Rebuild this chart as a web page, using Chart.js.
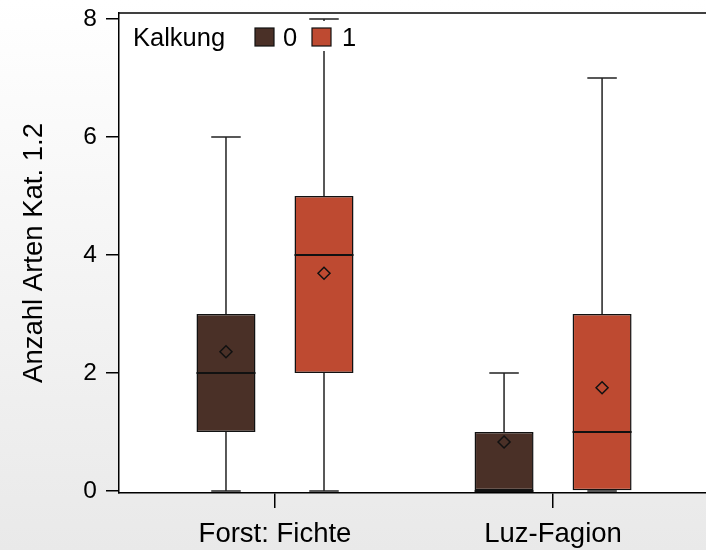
<!DOCTYPE html>
<html>
<head>
<meta charset="utf-8">
<script src="https://cdn.jsdelivr.net/npm/chart.js@4.4.1/dist/chart.umd.min.js"></script>
<style>
html,body{margin:0;padding:0;background:#fff;}
canvas{display:block;}
</style>
</head>
<body>
<canvas id="c" width="706" height="550"></canvas>
<script>
// ---- data ----
const categories = ['Forst: Fichte', 'Luz-Fagion'];
const categoryPositions = [1, 2];
const legendTitle = 'Kalkung';
const seriesNames = ['0', '1'];
const seriesColors = ['#4a3027', '#be4a31'];
const yTicks = [0, 2, 4, 6, 8];
const yAxisTitle = 'Anzahl Arten Kat. 1.2';

// Kalkung 0
const min0 = [0, 0];
const q1_0 = [1, 0];
const median0 = [2, 0];
const q3_0 = [3, 1];
const max0 = [6, 2];
const mean0 = [2.36, 0.83];
// Kalkung 1
const min1 = [0, 0];
const q1_1 = [2, 0];
const median1 = [4, 1];
const q3_1 = [5, 3];
const max1 = [8, 7];
const mean1 = [3.69, 1.75];

const stats = [
  {min: min0, q1: q1_0, med: median0, q3: q3_0, max: max0, mean: mean0},
  {min: min1, q1: q1_1, med: median1, q3: q3_1, max: max1, mean: mean1}
];

const FONT = "'Liberation Sans', Arial, sans-serif";

const datasets = stats.map((s, di) => ({
  label: seriesNames[di],
  data: categoryPositions.map((x, i) => ({x: x, y: [s.q1[i], s.q3[i]]})),
  backgroundColor: seriesColors[di],
  borderColor: '#111',
  borderWidth: 1.5,
  borderSkipped: false,
  categoryPercentage: 0.705,
  barPercentage: 0.602
}));

const boxPlugin = {
  id: 'boxExtras',
  beforeDraw(chart) {
    const {ctx, chartArea: a, width, height} = chart;
    ctx.save();
    const g = ctx.createLinearGradient(0, 0, 0, height);
    g.addColorStop(0, '#ffffff');
    g.addColorStop(1, '#e9e9e9');
    ctx.fillStyle = g;
    ctx.fillRect(0, 0, width, height);
    ctx.fillStyle = '#ffffff';
    ctx.fillRect(a.left, a.top, a.right - a.left, a.bottom - a.top);
    ctx.restore();
  },
  beforeDatasetsDraw(chart) {
    const {ctx} = chart;
    const y = chart.scales.y;
    ctx.save();
    ctx.strokeStyle = '#222';
    ctx.lineWidth = 1.5;
    stats.forEach((s, di) => {
      const meta = chart.getDatasetMeta(di);
      meta.data.forEach((bar, i) => {
        const x = bar.x;
        const half = bar.width / 4;
        const yMin = y.getPixelForValue(s.min[i]);
        const yMax = y.getPixelForValue(s.max[i]);
        const yQ1 = y.getPixelForValue(s.q1[i]);
        const yQ3 = y.getPixelForValue(s.q3[i]);
        ctx.beginPath();
        ctx.moveTo(x, yQ3); ctx.lineTo(x, yMax);
        ctx.moveTo(x, yQ1); ctx.lineTo(x, yMin);
        ctx.moveTo(x - half, yMax); ctx.lineTo(x + half, yMax);
        ctx.moveTo(x - half, yMin); ctx.lineTo(x + half, yMin);
        ctx.stroke();
      });
    });
    ctx.restore();
  },
  afterDatasetsDraw(chart) {
    const {ctx, chartArea: a} = chart;
    const y = chart.scales.y;
    ctx.save();
    stats.forEach((s, di) => {
      const meta = chart.getDatasetMeta(di);
      meta.data.forEach((bar, i) => {
        const x = bar.x;
        const w = bar.width;
        const yMed = y.getPixelForValue(s.med[i]);
        ctx.strokeStyle = '#111';
        ctx.lineWidth = 2;
        ctx.beginPath();
        ctx.moveTo(x - w / 2, yMed); ctx.lineTo(x + w / 2, yMed);
        ctx.stroke();
        const yMean = y.getPixelForValue(s.mean[i]);
        const r = 6;
        ctx.lineWidth = 1.5;
        ctx.beginPath();
        ctx.moveTo(x, yMean - r); ctx.lineTo(x + r, yMean);
        ctx.lineTo(x, yMean + r); ctx.lineTo(x - r, yMean);
        ctx.closePath();
        ctx.stroke();
      });
    });
    // legend box
    const lx = a.left + 1, ly = a.top + 8;
    ctx.fillStyle = '#ffffff';
    ctx.fillRect(lx, ly, 250, 30);
    ctx.font = '25.5px ' + FONT;
    ctx.fillStyle = '#000';
    ctx.textBaseline = 'alphabetic';
    ctx.textAlign = 'left';
    const base = a.top + 33;
    ctx.fillText(legendTitle, a.left + 14, base);
    const swX = [a.left + 136, a.left + 193];
    const txX = [a.left + 164, a.left + 223];
    seriesNames.forEach((n, i) => {
      ctx.fillStyle = seriesColors[i];
      ctx.fillRect(swX[i], a.top + 15, 19, 18);
      ctx.strokeStyle = '#111';
      ctx.lineWidth = 1.2;
      ctx.strokeRect(swX[i], a.top + 15, 19, 18);
      ctx.fillStyle = '#000';
      ctx.fillText(n, txX[i], base);
    });
    // top frame line
    ctx.strokeStyle = '#000';
    ctx.lineWidth = 1.5;
    ctx.beginPath();
    ctx.moveTo(a.left, a.top); ctx.lineTo(a.right, a.top);
    ctx.stroke();
    ctx.restore();
  }
};

new Chart(document.getElementById('c'), {
  type: 'bar',
  data: {datasets},
  plugins: [boxPlugin],
  options: {
    responsive: false,
    animation: false,
    devicePixelRatio: 1,
    layout: {padding: {top: 13, left: 0, right: 0, bottom: 0}},
    plugins: {legend: {display: false}, tooltip: {enabled: false}},
    scales: {
      x: {
        type: 'linear',
        offset: false,
        min: 0.439,
        max: 2.55,
        afterFit(scale) { scale.height = 57; scale.paddingLeft = 0; scale.paddingRight = 0; },
        afterBuildTicks(scale) { scale.ticks = categoryPositions.map(v => ({value: v})); },
        grid: {display: true, offset: false, drawOnChartArea: false, drawTicks: true, tickLength: 15, color: '#000', lineWidth: 1.5},
        border: {display: true, color: '#000', width: 1.5},
        ticks: {
          font: {family: FONT, size: 27.5},
          color: '#000',
          padding: 10,
          maxRotation: 0,
          autoSkip: false,
          callback: (v) => { const i = categoryPositions.indexOf(v); return i >= 0 ? categories[i] : ''; }
        }
      },
      y: {
        type: 'linear',
        min: -0.034,
        max: 8.1,
        afterFit(scale) { scale.width = 119; scale.paddingTop = 0; scale.paddingBottom = 0; },
        afterBuildTicks(scale) { scale.ticks = yTicks.map(v => ({value: v})); },
        grid: {display: true, drawOnChartArea: false, drawTicks: true, tickLength: 13, color: '#000', lineWidth: 1.5},
        border: {display: true, color: '#000', width: 1.5},
        ticks: {font: {family: FONT, size: 24.5}, color: '#000', padding: 9},
        title: {display: true, text: yAxisTitle, font: {family: FONT, size: 27.5}, color: '#000', padding: {top: 18, bottom: 0}}
      }
    }
  }
});
</script>
</body>
</html>
